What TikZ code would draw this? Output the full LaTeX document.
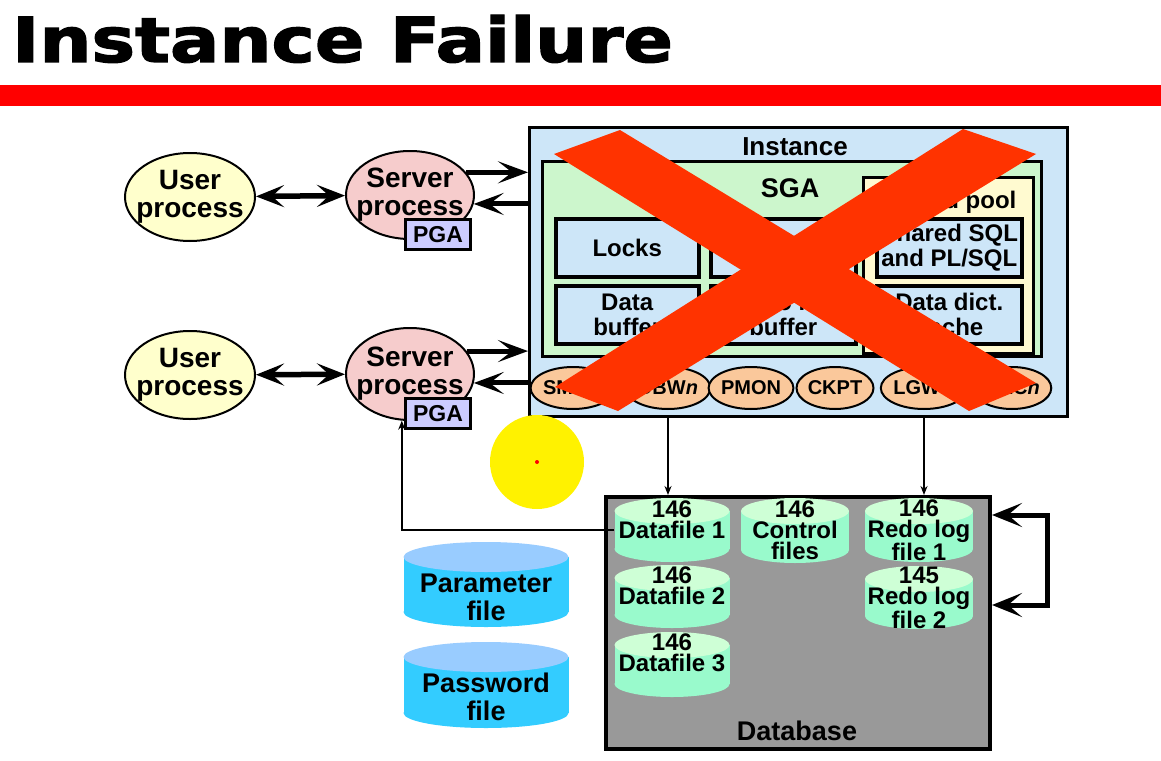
\documentclass[tikz,border=0pt]{standalone}
\usepackage{fontspec}
\setmainfont{Liberation Sans}
\newfontfamily\heavyfont[FakeBold=2]{DejaVu Sans Bold}
\usetikzlibrary{arrows.meta,shapes.geometric}

\definecolor{instfill}{RGB}{205,230,248}
\definecolor{sgafill}{RGB}{204,246,204}
\definecolor{poolfill}{RGB}{255,250,208}
\definecolor{peach}{RGB}{250,200,155}
\definecolor{userfill}{RGB}{255,255,204}
\definecolor{srvfill}{RGB}{246,204,204}
\definecolor{pgafill}{RGB}{204,204,255}
\definecolor{dbgray}{RGB}{153,153,153}
\definecolor{mint}{RGB}{153,250,204}
\definecolor{minttop}{RGB}{206,255,214}
\definecolor{cyanbody}{RGB}{51,204,255}
\definecolor{cyantop}{RGB}{153,204,255}
\definecolor{crossred}{RGB}{255,51,0}

% bold text at a given size and leading
\newcommand\fsz[2]{\fontsize{#1}{#2}\selectfont\bfseries}

% a drum-shaped file: name, centre x, top y, bottom y, width, ellipse radius, body colour, top colour
\newcommand\drum[8]{%
  \fill[#7] ({#2-#5/2},{#3+#6}) rectangle ({#2+#5/2},{#4-#6});
  \fill[#7] (#2,{#4-#6}) ellipse [x radius={#5/2}, y radius=#6];
  \fill[#8] (#2,{#3+#6}) ellipse [x radius={#5/2}, y radius=#6];
  \node[inner sep=0pt, minimum width=#5, minimum height={#4-#3}] (#1) at (#2,{(#3+#4)/2}) {};
}

\begin{document}
\begin{tikzpicture}[x=1pt,y=-1pt,
  box/.style={draw=black, line width=3pt, inner sep=0pt, anchor=north west},
  inner/.style={box, line width=3.5pt, fill=instfill, minimum width=145, minimum height=58,
                align=center, font=\fsz{24}{25}},
  txt/.style={inner sep=0pt, align=center},
  drumtext/.style={txt, font=\fsz{24}{21}},
  proc/.style={ellipse, draw=black, line width=2pt, inner sep=0pt,
               minimum width=128, minimum height=88},
  proctext/.style={txt, font=\fsz{28}{28}},
  bgp/.style={ellipse, draw=black, line width=2pt, fill=peach, inner sep=0pt,
              minimum width=74, minimum height=42, font=\fsz{20}{22}},
  pga/.style={box, fill=pgafill, minimum width=65, minimum height=30, font=\fsz{23}{24}},
  big/.style={line width=5pt, -{Stealth[length=30pt,width=22pt,inset=14pt]}},
  twoway/.style={line width=5.5pt,
     {Stealth[length=28pt,width=22pt,inset=12pt]}-{Stealth[length=28pt,width=22pt,inset=12pt]}},
  loopback/.style={line width=5pt,
     {Stealth[length=30pt,width=24pt,inset=14pt]}-{Stealth[length=30pt,width=24pt,inset=14pt]}},
  thinarr/.style={line width=1.5pt, -{Stealth[length=9pt,width=7pt]}}
]
\useasboundingbox (0,0) rectangle (1161,760);
\fill[white] (0,0) rectangle (1161,760);

% heading and rule
\node[font={\heavyfont\fontsize{62}{64}\selectfont}, anchor=base west, inner sep=0pt,
      xscale=1.18] (title) at (12,62) {Instance Failure};
\fill[red] (0,85) rectangle (1161,106);

% the instance
\node[box, fill=instfill, minimum width=538, minimum height=289] (inst) at (528,126) {};
\node[txt, font=\fsz{26}{28}] (instlbl) at (795,147) {Instance};
\node[box, fill=sgafill, minimum width=499, minimum height=195] (sga) at (541,160) {};
\node[txt, font=\fsz{27}{28}] (sgalbl) at (790,188) {SGA};
\node[box, fill=poolfill, minimum width=170, minimum height=176] (pool) at (862,176) {};
\node[txt, font=\fsz{24}{25}] (poollbl) at (947,202) {Shared pool};

\node[inner, minimum width=143] (locks) at (554,217) {Locks};
\node[inner] (ltop) at (709,217) {};
\node[inner] (sqlbox) at (875,217) {Shared SQL\\and PL/SQL};
\node[inner, minimum width=143] (dbuf) at (554,284) {Data\\buffer};
\node[inner] (rbuf) at (709,284) {Redo log\\buffer};
\node[inner] (ddc) at (875,284) {Data dict.\\cache};

% background processes
\node[bgp] (smon) at (573,388) {SMON};
\node[bgp] (dbwn) at (668,388) {DBW{\itshape n}};
\node[bgp] (pmon) at (751,388) {PMON};
\node[bgp] (ckpt) at (835,388) {CKPT};
\node[bgp] (lgwr) at (924,388) {LGWR};
\node[bgp] (arcn) at (1012,388) {ARC{\itshape n}};

% the cross over the instance
\fill[crossred] (554,154) -- (620,130) -- (1036,383) -- (969,411) -- cycle;
\fill[crossred] (963,129) -- (1036,154) -- (618,411) -- (555,387) -- cycle;

% user and server processes
\node[proc, fill=userfill, minimum width=130] (usr1) at (190,197) {};
\node[proctext] (usr1t) at (usr1) {User\\process};
\node[proc, fill=srvfill] (srv1) at (410,195) {};
\node[proctext] (srv1t) at (srv1) {Server\\process};
\node[pga] (pga1) at (404,218) {PGA};
\node[proc, fill=userfill, minimum width=130] (usr2) at (190,375) {};
\node[proctext] (usr2t) at (usr2) {User\\process};
\node[proc, fill=srvfill, minimum height=92] (srv2) at (410,374) {};
\node[proctext] (srv2t) at (srv2) {Server\\process};
\node[pga] (pga2) at (404,397) {PGA};

\draw[twoway] (usr1) -- (srv1);
\draw[twoway] (usr2) -- (srv2);
\draw[big] (srv1.22) -- (srv1.22 -| inst.west);
\draw[big] (srv1.-8 -| inst.west) -- (srv1.-8);
\draw[big] (srv2.22) -- (srv2.22 -| inst.west);
\draw[big] (srv2.-8 -| inst.west) -- (srv2.-8);

% the database
\node[box, line width=4pt, fill=dbgray, minimum width=384, minimum height=252] (db) at (604,495) {};
\node[txt, font=\fsz{27}{28}] (dblbl) at (797,731) {Database};

\drum{df1}{672}{498}{562}{115}{13}{mint}{minttop}
\drum{ctl}{795}{498}{563}{108}{13}{mint}{minttop}
\drum{rl1}{919}{498}{562}{108}{13}{mint}{minttop}
\drum{df2}{672}{565}{628}{115}{13}{mint}{minttop}
\drum{df3}{672}{632}{697}{115}{13}{mint}{minttop}
\drum{rl2}{919}{566}{629}{108}{13}{mint}{minttop}

\node[drumtext] (df1t) at (672,520) {146\\Datafile 1};
\node[drumtext] (ctlt) at (795,530) {146\\Control\\files};
\node[drumtext] (rl1t) at (919,530) {146\\Redo log\\file 1};
\node[drumtext] (df2t) at (672,586) {146\\Datafile 2};
\node[drumtext] (df3t) at (672,653) {146\\Datafile 3};
\node[drumtext] (rl2t) at (919,598) {145\\Redo log\\file 2};

% parameter and password files
\drum{parf}{486}{542}{627}{165}{15}{cyanbody}{cyantop}
\drum{pwdf}{486}{642}{728}{165}{15}{cyanbody}{cyantop}
\node[txt, font=\fsz{27}{28}] (parft) at (486,597) {Parameter\\file};
\node[txt, font=\fsz{27}{28}] (pwdft) at (486,697) {Password\\file};

% connectors
\draw[thinarr] (dbwn |- inst.south) -- (dbwn |- db.north);
\draw[thinarr] (lgwr |- inst.south) -- (lgwr |- db.north);
\draw[loopback] ([yshift=-20pt]db.north east) -- ++(55,0) |- ([yshift=-110pt]db.north east);
\draw[thinarr] (df1.west) -| (srv2.-100);

% pointer spot
\fill[yellow] (537,462) circle [radius=47];
\fill[red] (537,462) circle [radius=2];
\end{tikzpicture}
\end{document}
